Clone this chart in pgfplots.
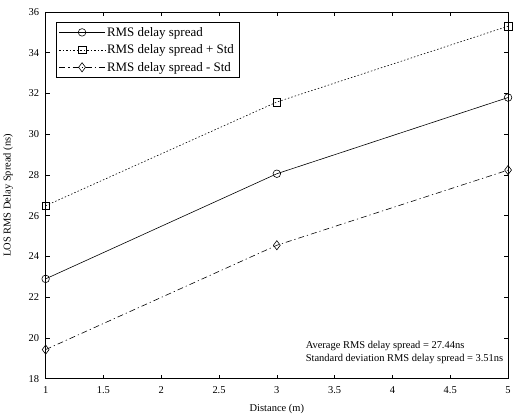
\documentclass[border=0pt]{standalone}
\usepackage{fontspec}
\setmainfont{Liberation Serif}
\usepackage{pgfplots}
\pgfplotsset{compat=1.18}
\begin{document}
\begin{tikzpicture}
\begin{axis}[
    name=ax,
    scale only axis, width=464pt, height=368pt,
    xmin=1, xmax=5, ymin=18, ymax=36,
    xtick={1,1.5,...,5}, ytick={18,20,...,36},
    tick align=inside, major tick length=4pt,
    axis line style={line width=0.8pt}, every tick/.style={black, line width=0.6pt},
    font=\fontsize{10.5}{12}\selectfont,
    ticklabel style={font=\fontsize{10.5}{12}\selectfont},
    yticklabel style={xshift=-3pt}, xticklabel style={yshift=-4pt},
    /pgf/number format/assume math mode=true,
    xlabel={Distance (m)}, ylabel={LOS RMS Delay Spread (ns)},
    xlabel style={yshift=-4pt}, ylabel style={yshift=9pt},
    legend style={at={(rel axis cs:0.022,0.973)}, anchor=north west, draw=black, line width=0.6pt,
        font=\fontsize{13}{15}\selectfont, row sep=3pt, inner sep=3pt},
    legend cell align=left,
    legend image code/.code={\draw[mark repeat=2, mark phase=2] plot coordinates {(0cm,0cm) (0.8cm,0cm) (1.6cm,0cm)};},
    every axis plot/.append style={black, line width=0.6pt, mark size=3.8pt, mark options={solid, fill=white}},
]
\addplot[mark=o] coordinates {(1,22.9) (3,28.06) (5,31.8)};
\addlegendentry{RMS delay spread}
\addplot[dash pattern=on 1.5pt off 2pt, mark=square] coordinates {(1,26.49) (3,31.58) (5,35.3)};
\addlegendentry{RMS delay spread + Std}
\addplot[dash pattern=on 6pt off 3pt on 1.2pt off 3pt, mark=diamond, mark size=4.6pt] coordinates {(1,19.43) (3,24.55) (5,28.24)};
\addlegendentry{RMS delay spread - Std}
\node[anchor=south east, align=left, font=\fontsize{10.5}{13}\selectfont, inner sep=0pt] at (rel axis cs:0.99,0.04)
    {Average RMS delay spread = 27.44ns\\Standard deviation RMS delay spread = 3.51ns};
\end{axis}
\path (ax.south west) ++(0,-37pt) coordinate (bb1);
\path (ax.north west) ++(0,12pt) coordinate (bb2);
\path (bb1) -- (bb2);
\end{tikzpicture}
\end{document}
